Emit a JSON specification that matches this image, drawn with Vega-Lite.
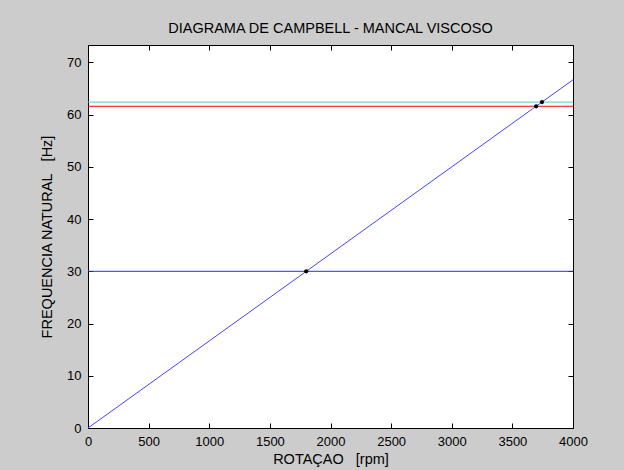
{
  "$schema": "https://vega.github.io/schema/vega-lite/v6.json",
  "width": 485,
  "height": 383,
  "autosize": "none",
  "padding": {"left": 88, "top": 45, "right": 51, "bottom": 42},
  "background": "#cccccc",
  "title": {"text": "DIAGRAMA DE CAMPBELL - MANCAL VISCOSO", "font": "Liberation Sans", "fontSize": 14.5, "fontWeight": "normal", "color": "black", "offset": 8},
  "config": {
    "view": {"fill": "white", "stroke": "black", "strokeWidth": 1},
    "axis": {"labelFont": "Liberation Sans", "labelFontSize": 13, "labelColor": "black", "labelFlush": false, "titleFont": "Liberation Sans", "titleFontSize": 14.5, "titleFontWeight": "normal", "titleColor": "black", "domain": false, "grid": false, "ticks": true, "tickSize": -5, "tickColor": "black", "tickWidth": 1, "labelPadding": 12}
  },
  "datasets": {
    "lines": [
      {"serie": "rotacao", "rpm": 0, "freq": 0},
      {"serie": "rotacao", "rpm": 4000, "freq": 66.67},
      {"serie": "modo1", "rpm": 0, "freq": 30},
      {"serie": "modo1", "rpm": 4000, "freq": 30},
      {"serie": "modo2", "rpm": 0, "freq": 61.6},
      {"serie": "modo2", "rpm": 4000, "freq": 61.6},
      {"serie": "modo3", "rpm": 0, "freq": 62.4},
      {"serie": "modo3", "rpm": 4000, "freq": 62.4}
    ],
    "pts": [
      {"rpm": 1800, "freq": 30},
      {"rpm": 3696, "freq": 61.6},
      {"rpm": 3744, "freq": 62.4}
    ]
  },
  "layer": [
    {
      "data": {"name": "lines"},
      "mark": {"type": "line", "strokeWidth": 1, "clip": true},
      "encoding": {
        "x": {"field": "rpm", "type": "quantitative", "scale": {"domain": [0, 4000], "nice": false, "zero": false}, "axis": {"orient": "bottom", "values": [0,500,1000,1500,2000,2500,3000,3500,4000], "format": "d", "title": "ROTAÇAO\u00a0\u00a0\u00a0[rpm]", "titlePadding": 4}},
        "y": {"field": "freq", "type": "quantitative", "scale": {"domain": [0, 73.33], "nice": false, "zero": false}, "axis": {"orient": "left", "values": [0,10,20,30,40,50,60,70], "format": "d", "title": "FREQUENCIA NATURAL\u00a0\u00a0\u00a0[Hz]", "titlePadding": 12}},
        "detail": {"field": "serie"},
        "color": {"field": "serie", "type": "nominal", "scale": {"domain": ["rotacao", "modo1", "modo2", "modo3"], "range": ["#4444ff", "#2a2aff", "#ff0000", "#48cccc"]}, "legend": null}
      }
    },
    {
      "data": {"name": "pts"},
      "mark": {"type": "point", "filled": true, "color": "black", "size": 18, "opacity": 1},
      "encoding": {
        "x": {"field": "rpm", "type": "quantitative", "axis": {"orient": "top", "values": [0,500,1000,1500,2000,2500,3000,3500,4000], "labels": false, "title": null}},
        "y": {"field": "freq", "type": "quantitative", "axis": {"orient": "right", "values": [0,10,20,30,40,50,60,70], "labels": false, "title": null}}
      }
    }
  ],
  "resolve": {"axis": {"x": "independent", "y": "independent"}}
}
